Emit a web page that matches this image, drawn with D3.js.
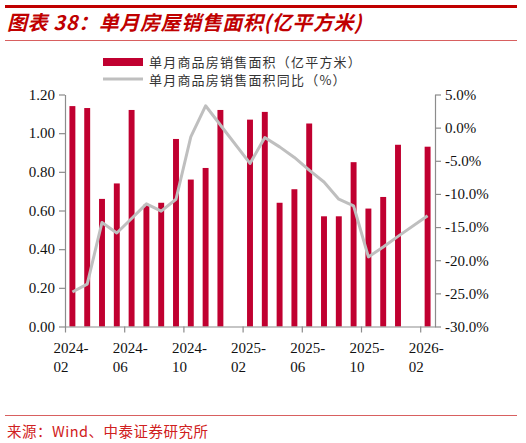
<!DOCTYPE html>
<html>
<head>
<meta charset="utf-8">
<script src="https://cdn.jsdelivr.net/npm/d3@7"></script>
<style>
  body { margin: 0; background: #fff; }
  svg { display: block; }
</style>
</head>
<body>
<div id="chart"></div>
<script>
  // Months shown (Jan values are merged into Feb, so they are empty)
  const months = [
    "2024-02", "2024-03", "2024-04", "2024-05", "2024-06", "2024-07", "2024-08",
    "2024-09", "2024-10", "2024-11", "2024-12", "2025-01", "2025-02", "2025-03",
    "2025-04", "2025-05", "2025-06", "2025-07", "2025-08", "2025-09", "2025-10",
    "2025-11", "2025-12", "2026-01", "2026-02"
  ];
  // 单月商品房销售面积（亿平方米）
  const area = [1.14, 1.13, 0.66, 0.74, 1.12, 0.63, 0.64, 0.97, 0.76, 0.82, 1.12, null,
                1.07, 1.11, 0.64, 0.71, 1.05, 0.57, 0.57, 0.85, 0.61, 0.67, 0.94, null, 0.93];
  // 单月商品房销售面积同比（%）
  const yoy = [-24.8, -23.6, -14.3, -15.9, -13.7, -11.5, -12.6, -10.8, -1.4, 3.3, 0.4, null,
               -5.4, -1.5, -2.9, -4.5, -6.4, -8.2, -10.8, -11.8, -19.5, -18.0, -16.4, null, -13.3];
  const leftTicks = [0, 0.2, 0.4, 0.6, 0.8, 1.0, 1.2];
  const rightTicks = [-30, -25, -20, -15, -10, -5, 0, 5];
  const labelIdx = [0, 4, 8, 12, 16, 20, 24];

  const W = 526, H = 443;
  const plot = { left: 65, right: 435, top: 94.5, bottom: 326.5 };
  const red = "#C00030", titleRed = "#C00000", gray = "#BFBFBF", axisGray = "#8c8c8c";
  const serif = "'Liberation Serif', 'Times New Roman', serif";
  const cjk = "'Noto Sans CJK SC', sans-serif";

  const svg = d3.select("#chart").append("svg")
    .attr("width", W).attr("height", H);

  // Header and footer rules
  svg.append("rect").attr("x", 5).attr("y", 5).attr("width", 512).attr("height", 3).attr("fill", titleRed);
  svg.append("line").attr("x1", 5).attr("x2", 517).attr("y1", 40.5).attr("y2", 40.5)
    .attr("stroke", "#d86060").attr("stroke-width", 1);
  svg.append("line").attr("x1", 5).attr("x2", 517).attr("y1", 415.5).attr("y2", 415.5)
    .attr("stroke", "#d86060").attr("stroke-width", 1);

  svg.append("text")
    .attr("x", 7).attr("y", 30)
    .attr("font-family", cjk).attr("font-size", 20).attr("font-weight", "bold")
    .attr("font-style", "italic").attr("fill", titleRed).attr("letter-spacing", 0.6)
    .text("图表 38：单月房屋销售面积(亿平方米)");

  svg.append("text")
    .attr("x", 7).attr("y", 437)
    .attr("font-family", cjk).attr("font-size", 14.5).attr("fill", "#d02020")
    .attr("letter-spacing", 0.5)
    .text("来源：Wind、中泰证券研究所");

  // Scales
  const x = d3.scaleBand().domain(months)
    .range([plot.left, plot.right]).paddingInner(0.6).paddingOuter(0.3);
  const slot = d3.scaleLinear().domain([0, months.length]).range([plot.left, plot.right]);
  const yL = d3.scaleLinear().domain([0, 1.2]).range([plot.bottom, plot.top]);
  const yR = d3.scaleLinear().domain([-30, 5]).range([plot.bottom, plot.top]);

  // Bars
  svg.append("g").selectAll("rect")
    .data(months.map((m, i) => ({ m, v: area[i] })).filter(d => d.v != null))
    .join("rect")
    .attr("x", d => x(d.m))
    .attr("width", x.bandwidth())
    .attr("y", d => yL(d.v))
    .attr("height", d => yL(0) - yL(d.v))
    .attr("fill", red);

  // YoY line (January gaps are bridged)
  const pts = months.map((m, i) => ({ m, v: yoy[i] })).filter(d => d.v != null);
  svg.append("path")
    .datum(pts)
    .attr("fill", "none")
    .attr("stroke", gray)
    .attr("stroke-width", 3)
    .attr("stroke-linejoin", "round")
    .attr("d", d3.line().x(d => x(d.m) + x.bandwidth() / 2).y(d => yR(d.v)));

  // Axes
  function styleAxis(g) {
    g.selectAll(".domain, .tick line").attr("stroke", axisGray).attr("stroke-width", 1.2);
    g.selectAll("text").attr("font-family", serif).attr("font-size", 15).attr("fill", "#111");
  }

  svg.append("g")
    .attr("transform", `translate(${plot.left},0)`)
    .call(d3.axisLeft(yL).tickValues(leftTicks).tickFormat(d3.format(".2f")).tickSize(6).tickSizeOuter(0).tickPadding(4))
    .call(styleAxis);

  svg.append("g")
    .attr("transform", `translate(${plot.right},0)`)
    .call(d3.axisRight(yR).tickValues(rightTicks).tickFormat(d => d.toFixed(1) + "%").tickSize(6).tickSizeOuter(0).tickPadding(4))
    .call(styleAxis);

  const xAxis = svg.append("g")
    .attr("transform", `translate(0,${plot.bottom})`)
    .call(d3.axisBottom(slot).tickValues(labelIdx).tickFormat("").tickSize(6).tickSizeOuter(0))
    .call(styleAxis);

  xAxis.selectAll(".tick").append("text")
    .attr("x", -12).attr("y", 26)
    .attr("text-anchor", "start")
    .attr("font-family", serif).attr("font-size", 15).attr("fill", "#111")
    .selectAll("tspan")
    .data(i => { const p = months[i].split("-"); return [p[0] + "-", p[1]]; })
    .join("tspan")
    .attr("x", -12)
    .attr("dy", (d, j) => j === 0 ? 0 : 19)
    .text(d => d);

  // Legend
  const legend = svg.append("g");
  legend.append("rect").attr("x", 103).attr("y", 58).attr("width", 40).attr("height", 8).attr("fill", red);
  legend.append("line").attr("x1", 103).attr("x2", 143).attr("y1", 79).attr("y2", 79)
    .attr("stroke", gray).attr("stroke-width", 3);
  legend.selectAll("text")
    .data(["单月商品房销售面积（亿平方米）", "单月商品房销售面积同比（%）"])
    .join("text")
    .attr("x", 149)
    .attr("y", (d, i) => 62 + i * 18)
    .attr("dy", "0.35em")
    .attr("font-family", cjk).attr("font-size", 13).attr("letter-spacing", 1.2)
    .attr("fill", "#333")
    .text(d => d);
</script>
</body>
</html>
